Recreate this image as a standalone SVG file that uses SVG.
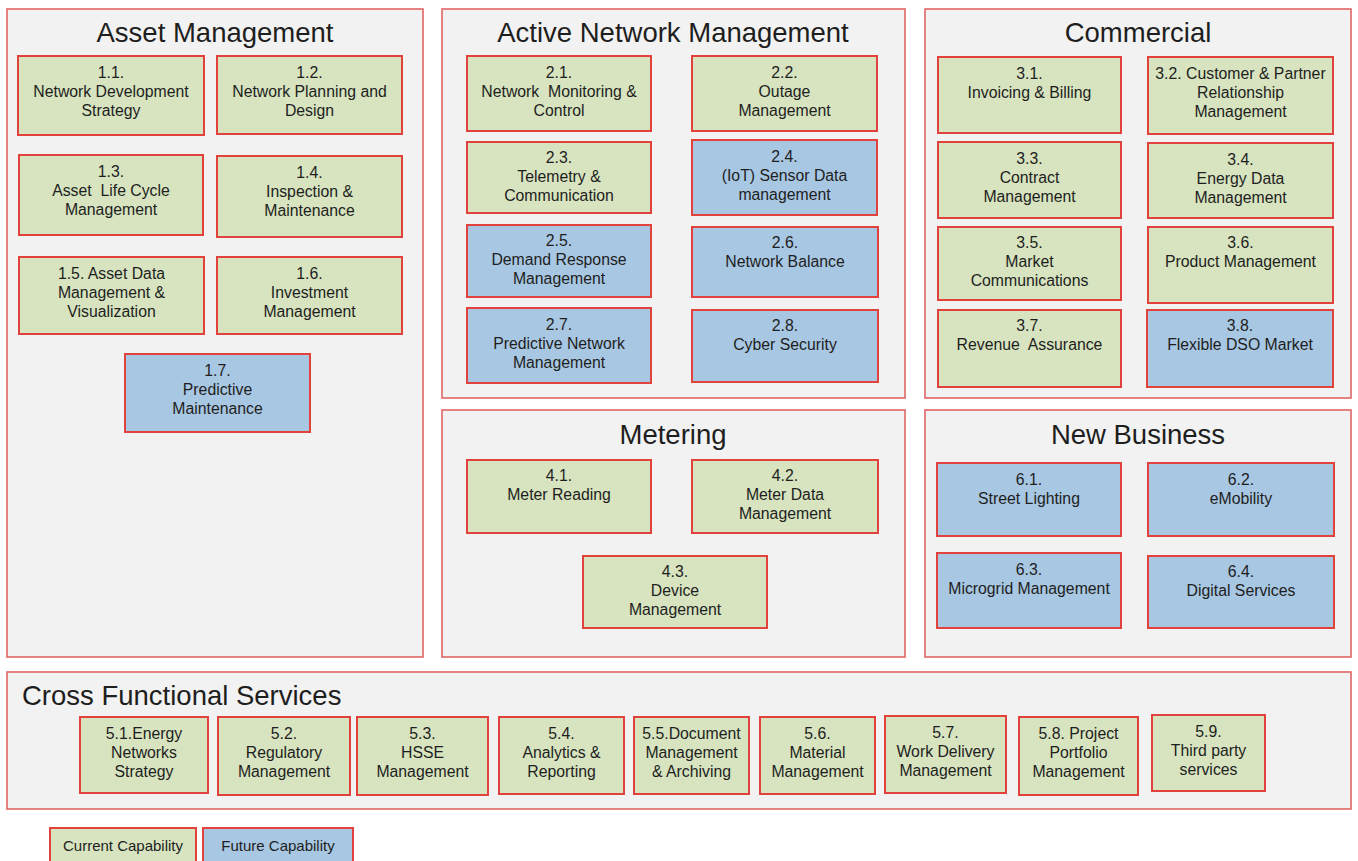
<svg xmlns="http://www.w3.org/2000/svg" width="1358" height="861" viewBox="0 0 1358 861">
<style>
.bg{fill:#ffffff}
.grp{fill:#f2f2f2;stroke:#e06464;stroke-width:1.6}
.cur{fill:#d7e4bf;stroke:#e2423c;stroke-width:2}
.fut{fill:#a8c7e2;stroke:#e2423c;stroke-width:2}
text{font-family:"Liberation Sans",Arial,sans-serif;fill:#1e1e1e;white-space:pre}
.t{font-size:27.5px;text-anchor:middle}
.tl{font-size:27.5px}
.n{font-size:15.8px;text-anchor:middle}
.lg{font-size:15px;text-anchor:middle}
</style>
<rect class="bg" x="0" y="0" width="1358" height="861"/>

<g id="group-asset">
<rect class="grp" x="7" y="9" width="416" height="648"/>
<text class="t" x="215" y="42">Asset Management</text>
</g>
<g id="group-anm">
<rect class="grp" x="442" y="9" width="463" height="389"/>
<text class="t" x="673" y="42">Active Network Management</text>
</g>
<g id="group-commercial">
<rect class="grp" x="925" y="9" width="426" height="389"/>
<text class="t" x="1138" y="42">Commercial</text>
</g>
<g id="group-metering">
<rect class="grp" x="442" y="410" width="463" height="247"/>
<text class="t" x="673" y="444">Metering</text>
</g>
<g id="group-newbusiness">
<rect class="grp" x="925" y="410" width="426" height="247"/>
<text class="t" x="1138" y="444">New Business</text>
</g>
<g id="group-cross">
<rect class="grp" x="7" y="672" width="1344" height="137"/>
<text class="tl" x="22" y="705">Cross Functional Services</text>
</g>

<g id="n1_1"><rect class="cur" x="18" y="56" width="186" height="79"/><text class="n" x="111" y="77.5">1.1.</text><text class="n" x="111" y="96.5">Network Development</text><text class="n" x="111" y="115.5">Strategy</text></g>
<g id="n1_2"><rect class="cur" x="217" y="56" width="185" height="78"/><text class="n" x="309.5" y="77.5">1.2.</text><text class="n" x="309.5" y="96.5">Network Planning and</text><text class="n" x="309.5" y="115.5">Design</text></g>
<g id="n1_3"><rect class="cur" x="19" y="155" width="184" height="80"/><text class="n" x="111" y="176.5">1.3.</text><text class="n" x="111" y="195.5" xml:space="preserve">Asset  Life Cycle</text><text class="n" x="111" y="214.5">Management</text></g>
<g id="n1_4"><rect class="cur" x="217" y="156" width="185" height="81"/><text class="n" x="309.5" y="177.5">1.4.</text><text class="n" x="309.5" y="196.5">Inspection &amp;</text><text class="n" x="309.5" y="215.5">Maintenance</text></g>
<g id="n1_5"><rect class="cur" x="19" y="257" width="185" height="77"/><text class="n" x="111.5" y="278.5">1.5. Asset Data</text><text class="n" x="111.5" y="297.5">Management &amp;</text><text class="n" x="111.5" y="316.5">Visualization</text></g>
<g id="n1_6"><rect class="cur" x="217" y="257" width="185" height="77"/><text class="n" x="309.5" y="278.5">1.6.</text><text class="n" x="309.5" y="297.5">Investment</text><text class="n" x="309.5" y="316.5">Management</text></g>
<g id="n1_7"><rect class="fut" x="125" y="354" width="185" height="78"/><text class="n" x="217.5" y="375.5">1.7.</text><text class="n" x="217.5" y="394.5">Predictive</text><text class="n" x="217.5" y="413.5">Maintenance</text></g>

<g id="n2_1"><rect class="cur" x="467" y="56" width="184" height="75"/><text class="n" x="559" y="77.5">2.1.</text><text class="n" x="559" y="96.5" xml:space="preserve">Network  Monitoring &amp;</text><text class="n" x="559" y="115.5">Control</text></g>
<g id="n2_2"><rect class="cur" x="692" y="56" width="185" height="75"/><text class="n" x="784.5" y="77.5">2.2.</text><text class="n" x="784.5" y="96.5">Outage</text><text class="n" x="784.5" y="115.5">Management</text></g>
<g id="n2_3"><rect class="cur" x="467" y="142" width="184" height="71"/><text class="n" x="559" y="163">2.3.</text><text class="n" x="559" y="182">Telemetry &amp;</text><text class="n" x="559" y="201">Communication</text></g>
<g id="n2_4"><rect class="fut" x="692" y="140" width="185" height="75"/><text class="n" x="784.5" y="161.5">2.4.</text><text class="n" x="784.5" y="180.5">(IoT) Sensor Data</text><text class="n" x="784.5" y="199.5">management</text></g>
<g id="n2_5"><rect class="fut" x="467" y="225" width="184" height="72"/><text class="n" x="559" y="246">2.5.</text><text class="n" x="559" y="265">Demand Response</text><text class="n" x="559" y="284">Management</text></g>
<g id="n2_6"><rect class="fut" x="692" y="227" width="186" height="70"/><text class="n" x="785" y="248">2.6.</text><text class="n" x="785" y="267">Network Balance</text></g>
<g id="n2_7"><rect class="fut" x="467" y="308" width="184" height="75"/><text class="n" x="559" y="329.5">2.7.</text><text class="n" x="559" y="348.5">Predictive Network</text><text class="n" x="559" y="367.5">Management</text></g>
<g id="n2_8"><rect class="fut" x="692" y="310" width="186" height="72"/><text class="n" x="785" y="331">2.8.</text><text class="n" x="785" y="350">Cyber Security</text></g>

<g id="n3_1"><rect class="cur" x="938" y="57" width="183" height="76"/><text class="n" x="1029.5" y="78.5">3.1.</text><text class="n" x="1029.5" y="97.5">Invoicing &amp; Billing</text></g>
<g id="n3_2"><rect class="cur" x="1148" y="57" width="185" height="77"/><text class="n" x="1240.5" y="78.5">3.2. Customer &amp; Partner</text><text class="n" x="1240.5" y="97.5">Relationship</text><text class="n" x="1240.5" y="116.5">Management</text></g>
<g id="n3_3"><rect class="cur" x="938" y="142" width="183" height="76"/><text class="n" x="1029.5" y="163.5">3.3.</text><text class="n" x="1029.5" y="182.5">Contract</text><text class="n" x="1029.5" y="201.5">Management</text></g>
<g id="n3_4"><rect class="cur" x="1148" y="143" width="185" height="75"/><text class="n" x="1240.5" y="164.5">3.4.</text><text class="n" x="1240.5" y="183.5">Energy Data</text><text class="n" x="1240.5" y="202.5">Management</text></g>
<g id="n3_5"><rect class="cur" x="938" y="227" width="183" height="73"/><text class="n" x="1029.5" y="248">3.5.</text><text class="n" x="1029.5" y="267">Market</text><text class="n" x="1029.5" y="286">Communications</text></g>
<g id="n3_6"><rect class="cur" x="1148" y="227" width="185" height="76"/><text class="n" x="1240.5" y="248">3.6.</text><text class="n" x="1240.5" y="267">Product Management</text></g>
<g id="n3_7"><rect class="cur" x="938" y="310" width="183" height="77"/><text class="n" x="1029.5" y="331">3.7.</text><text class="n" x="1029.5" y="350" xml:space="preserve">Revenue  Assurance</text></g>
<g id="n3_8"><rect class="fut" x="1147" y="310" width="186" height="77"/><text class="n" x="1240" y="331">3.8.</text><text class="n" x="1240" y="350">Flexible DSO Market</text></g>

<g id="n4_1"><rect class="cur" x="467" y="460" width="184" height="73"/><text class="n" x="559" y="481">4.1.</text><text class="n" x="559" y="500">Meter Reading</text></g>
<g id="n4_2"><rect class="cur" x="692" y="460" width="186" height="73"/><text class="n" x="785" y="481">4.2.</text><text class="n" x="785" y="500">Meter Data</text><text class="n" x="785" y="519">Management</text></g>
<g id="n4_3"><rect class="cur" x="583" y="556" width="184" height="72"/><text class="n" x="675" y="577">4.3.</text><text class="n" x="675" y="596">Device</text><text class="n" x="675" y="615">Management</text></g>

<g id="n6_1"><rect class="fut" x="937" y="463" width="184" height="73"/><text class="n" x="1029" y="484.5">6.1.</text><text class="n" x="1029" y="503.5">Street Lighting</text></g>
<g id="n6_2"><rect class="fut" x="1148" y="463" width="186" height="73"/><text class="n" x="1241" y="484.5">6.2.</text><text class="n" x="1241" y="503.5">eMobility</text></g>
<g id="n6_3"><rect class="fut" x="937" y="553" width="184" height="75"/><text class="n" x="1029" y="574.5">6.3.</text><text class="n" x="1029" y="593.5">Microgrid Management</text></g>
<g id="n6_4"><rect class="fut" x="1148" y="556" width="186" height="72"/><text class="n" x="1241" y="577">6.4.</text><text class="n" x="1241" y="596">Digital Services</text></g>

<g id="n5_1"><rect class="cur" x="80" y="717" width="128" height="76"/><text class="n" x="144" y="738.5">5.1.Energy</text><text class="n" x="144" y="757.5">Networks</text><text class="n" x="144" y="776.5">Strategy</text></g>
<g id="n5_2"><rect class="cur" x="218" y="717" width="132" height="78"/><text class="n" x="284" y="738.5">5.2.</text><text class="n" x="284" y="757.5">Regulatory</text><text class="n" x="284" y="776.5">Management</text></g>
<g id="n5_3"><rect class="cur" x="357" y="717" width="131" height="78"/><text class="n" x="422.5" y="738.5">5.3.</text><text class="n" x="422.5" y="757.5">HSSE</text><text class="n" x="422.5" y="776.5">Management</text></g>
<g id="n5_4"><rect class="cur" x="499" y="717" width="125" height="77"/><text class="n" x="561.5" y="738.5">5.4.</text><text class="n" x="561.5" y="757.5">Analytics &amp;</text><text class="n" x="561.5" y="776.5">Reporting</text></g>
<g id="n5_5"><rect class="cur" x="634" y="717" width="115" height="77"/><text class="n" x="691.5" y="738.5">5.5.Document</text><text class="n" x="691.5" y="757.5">Management</text><text class="n" x="691.5" y="776.5">&amp; Archiving</text></g>
<g id="n5_6"><rect class="cur" x="760" y="717" width="115" height="77"/><text class="n" x="817.5" y="738.5">5.6.</text><text class="n" x="817.5" y="757.5">Material</text><text class="n" x="817.5" y="776.5">Management</text></g>
<g id="n5_7"><rect class="cur" x="885" y="716" width="121" height="77"/><text class="n" x="945.5" y="737.5">5.7.</text><text class="n" x="945.5" y="756.5">Work Delivery</text><text class="n" x="945.5" y="775.5">Management</text></g>
<g id="n5_8"><rect class="cur" x="1019" y="717" width="119" height="78"/><text class="n" x="1078.5" y="738.5">5.8. Project</text><text class="n" x="1078.5" y="757.5">Portfolio</text><text class="n" x="1078.5" y="776.5">Management</text></g>
<g id="n5_9"><rect class="cur" x="1152" y="715" width="113" height="76"/><text class="n" x="1208.5" y="736.5">5.9.</text><text class="n" x="1208.5" y="755.5">Third party</text><text class="n" x="1208.5" y="774.5">services</text></g>

<g id="connectors"></g>

<g id="legend-current"><rect class="cur" x="50" y="828" width="146" height="34"/><text class="lg" x="123" y="851">Current Capability</text></g>
<g id="legend-future"><rect class="fut" x="203" y="828" width="150" height="34"/><text class="lg" x="278" y="851">Future Capability</text></g>
</svg>
